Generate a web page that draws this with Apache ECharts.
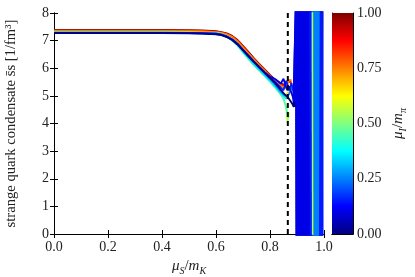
<!DOCTYPE html>
<html><head><meta charset="utf-8">
<script src="https://cdn.jsdelivr.net/npm/echarts@6/dist/echarts.min.js"></script>
<style>html,body{margin:0;padding:0;background:#fff}#c{width:415px;height:277px}</style>
</head><body><div id="c"></div>
<script>
// x positions (mu_S / m_K) of the smooth part
const muS = [0, 0.1, 0.2, 0.3, 0.4, 0.5, 0.55, 0.6, 0.62, 0.64, 0.66, 0.68, 0.70, 0.72, 0.74, 0.76, 0.78, 0.80, 0.82, 0.84, 0.85, 0.86, 0.865, 0.87, 0.88, 0.89];
// x positions of the unstable (noisy) region
const muSChaos = [0.899, 0.901, 0.903, 0.906, 0.909, 0.912, 0.915, 0.918, 0.921, 0.924, 0.927, 0.930, 0.933, 0.936, 0.939, 0.942, 0.945, 0.948, 0.951, 0.954, 0.957, 0.960, 0.963, 0.966, 0.969, 0.972, 0.975, 0.978, 0.981, 0.984, 0.987, 0.990, 0.992];
// colour parameter mu_I / m_pi of each curve
const muI = [0.00, 0.10, 0.15, 0.25, 0.35, 0.45, 0.55, 0.65, 0.75, 0.85, 1.00];

const ss00 = [7.27,7.27,7.27,7.27,7.27,7.26,7.25, 7.23,7.20,7.13,7.02,6.86,6.65,6.44,6.23,6.03,5.83,5.64,5.45,5.22,5.10,5.00,4.95,4.90,4.75,4.60];
const ss01 = [7.28,7.28,7.28,7.28,7.28,7.27,7.26, 7.24,7.21,7.14,7.03,6.87,6.66,6.45,6.24,6.04,5.85,5.70,5.60,5.45,5.62,5.30,5.20,5.35,5.10,4.80];
const ss02 = [7.28,7.28,7.28,7.28,7.28,7.27,7.26, 7.25,7.22,7.15,7.04,6.88,6.67,6.46,6.25,6.05,5.86,5.68,5.50,5.30,5.20,5.55,5.40,5.20,5.45,5.00];
const ss03 = [7.29,7.29,7.29,7.29,7.29,7.28,7.27, 7.26,7.23,7.16,7.05,6.88,6.66,6.44,6.22,6.02,5.82,5.62,5.40,5.15,5.05,5.00,4.95,5.05,5.30,5.20];
const ss04 = [7.29,7.29,7.29,7.29,7.29,7.28,7.27, 7.26,7.23,7.15,7.02,6.84,6.60,6.37,6.15,5.95,5.75,5.55,5.33,5.10,5.00,4.90,4.85,4.95,null,null];
const ss05 = [7.30,7.30,7.30,7.30,7.30,7.29,7.28, 7.26,7.23,7.14,7.00,6.82,6.58,6.35,6.12,5.92,5.72,5.52,5.30,5.05,4.90,4.60,4.30,4.20,null,null];
const ss06 = [7.30,7.30,7.30,7.30,7.30,7.29,7.28, 7.27,7.24,7.15,7.01,6.82,6.58,6.34,6.12,5.92,5.72,5.52,5.30,5.05,4.92,4.55,4.05,4.40,null,null];
const ss07 = [7.31,7.31,7.31,7.31,7.31,7.30,7.29, 7.28,7.25,7.17,7.04,6.86,6.63,6.40,6.18,5.97,5.77,5.58,5.38,5.18,5.10,5.00,5.05,5.20,null,null];
const ss08 = [7.35,7.35,7.35,7.35,7.35,7.34,7.33, 7.31,7.28,7.23,7.13,6.97,6.76,6.54,6.32,6.11,5.91,5.71,5.52,5.36,5.30,5.30,5.45,5.55,5.58,null];
const ss09 = [7.37,7.37,7.37,7.37,7.37,7.36,7.35, 7.32,7.29,7.24,7.15,6.99,6.78,6.56,6.34,6.13,5.93,5.73,5.55,5.40,5.38,5.35,5.55,5.62,5.48,null];
const ss10 = [7.39,7.39,7.39,7.39,7.39,7.38,7.37, 7.34,7.31,7.26,7.17,7.02,6.81,6.59,6.37,6.16,5.96,5.76,5.58,5.45,5.42,5.40,5.50,5.58,5.42,null];

// noisy region values (curves mu_I = 0.00, 0.10, 0.15, 0.25)
const chaos00 = [8.6,-0.4,8.6,-0.4,8.8,-0.3,8.5,-0.5,8.7,-0.2,8.9,-0.4,8.6,-0.3,8.8,-0.5,8.5,-0.2,8.7,-0.4,8.9,-0.3,8.6,-0.5,8.8,-0.2,8.5,-0.4,8.7,-0.3,8.9,-0.5,8.6];
const chaos01 = [8.7,-0.3,8.7,-0.3,8.5,-0.5,8.9,-0.2,8.6,-0.4,8.8,-0.3,8.5,null,null,-0.2,8.9,-0.4,8.6,-0.3,null,null,null,null,null,null,null,null,null,null,null,null,null];
const chaos02 = [null,null,null,null,null,null,null,null,null,null,null,null,null,null,null,null,null,null,8.6,-0.4,null,null,null,null,null,null,null,null,null,8.5,-0.4,8.7,-0.2];
const chaos03 = [null,null,null,null,null,null,null,null,null,null,null,null,null,null,null,null,null,null,null,null,null,8.7,-0.3,8.5,-0.5,8.9,-0.2,8.6,null,null,null,null,null];
// single vertical streak of the mu_I = 0.55 curve
const spikeMuS = [0.957, 0.958];
const spikeSs = [8.6, -0.4];

const criticalMuS = 0.866;
const xTicks = [0, 1, 0.2];
const yTicks = [0, 8, 1];
const cbarRange = [0, 1, 0.25];

const smoothSets = [ss00, ss01, ss02, ss03, ss04, ss05, ss06, ss07, ss08, ss09, ss10];
const chaosSets = [chaos00, chaos01, chaos02, chaos03];

function jet(v) {
  const c = t => Math.max(0, Math.min(1, t));
  const r = c(Math.min(4 * v - 1.5, -4 * v + 4.5));
  const g = c(Math.min(4 * v - 0.5, -4 * v + 3.5));
  const b = c(Math.min(4 * v + 0.5, -4 * v + 2.5));
  return 'rgb(' + Math.round(r * 255) + ',' + Math.round(g * 255) + ',' + Math.round(b * 255) + ')';
}

const FONT = 'Liberation Serif';
const series = [];
// smooth curves: high mu_I drawn first so the blue curves lie on top
for (let k = smoothSets.length - 1; k >= 0; k--) {
  const arr = smoothSets[k];
  series.push({
    type: 'line', xAxisIndex: 0, yAxisIndex: 0, data: muS.map((x, i) => [x, arr[i]]),
    showSymbol: false, symbol: 'none', clip: true, animation: false,
    lineStyle: { color: jet(muI[k]), width: 1.8 }
  });
}
// noisy region of the low-mu_I curves
chaosSets.forEach((arr, k) => {
  const data = [];
  const last = smoothSets[k][muS.length - 1];
  if (arr[0] != null) data.push([muS[muS.length - 1], last]);
  muSChaos.forEach((x, i) => data.push([x, arr[i]]));
  series.push({
    type: 'line', xAxisIndex: 0, yAxisIndex: 0, data: data,
    showSymbol: false, symbol: 'none', clip: true, animation: false,
    lineStyle: { color: jet(muI[k]), width: 3.4, join: 'bevel' }
  });
});
series.push({
  type: 'line', xAxisIndex: 0, yAxisIndex: 0, symbol: 'none', clip: true, animation: false,
  data: spikeMuS.map((x, i) => [x, spikeSs[i]]),
  lineStyle: { color: jet(muI[6]), width: 1.5 }
});
series.push({
  type: 'line', xAxisIndex: 0, yAxisIndex: 0, symbol: 'none', animation: false, z: 5,
  data: [[criticalMuS, yTicks[0]], [criticalMuS, yTicks[1]]],
  lineStyle: { color: '#000', width: 2, type: [5, 4] }
});
const stops = [];
for (let i = 0; i <= 40; i++) stops.push({ offset: i / 40, color: jet(i / 40) });
series.push({
  type: 'bar', xAxisIndex: 2, yAxisIndex: 3, data: [cbarRange[1]], barWidth: '100%', animation: false,
  itemStyle: { color: new echarts.graphic.LinearGradient(0, 1, 0, 0, stops) }
});

const axLine = { show: true, lineStyle: { color: '#000', width: 1 } };
const tickIn = { show: true, inside: true, length: 4, lineStyle: { color: '#000' } };
const lab = { fontFamily: FONT, fontSize: 14, color: '#222' };
const richName = {
  i: { fontFamily: FONT, fontSize: 15, fontStyle: 'italic', lineHeight: 20, verticalAlign: 'middle', color: '#222' },
  n: { fontFamily: FONT, fontSize: 15, lineHeight: 20, verticalAlign: 'middle', color: '#222' },
  s: { fontFamily: FONT, fontSize: 10, fontStyle: 'italic', lineHeight: 12, verticalAlign: 'bottom', color: '#222' }
};

const option = {
  animation: false,
  backgroundColor: '#fff',
  grid: [
    { left: 54, right: 91, top: 13, bottom: 43, outerBoundsMode: 'none', containLabel: false },
    { left: 332, right: 62, top: 13, bottom: 43, outerBoundsMode: 'none', containLabel: false }
  ],
  xAxis: [
    { gridIndex: 0, type: 'value', min: xTicks[0], max: xTicks[1], interval: xTicks[2], position: 'bottom',
      axisLine: axLine, axisTick: tickIn, splitLine: { show: false },
      axisLabel: Object.assign({ margin: 6, formatter: v => v.toFixed(1) }, lab),
      name: '{i|μ}{s|S}{n|/}{i|m}{s|K}', nameLocation: 'middle', nameGap: 22,
      nameTextStyle: { rich: richName } },
    { gridIndex: 0, type: 'value', min: xTicks[0], max: xTicks[1], interval: xTicks[2], position: 'top',
      axisLine: axLine, axisTick: tickIn, splitLine: { show: false }, axisLabel: { show: false } },
    { gridIndex: 1, type: 'category', data: [''], position: 'bottom', boundaryGap: true,
      axisLine: axLine, axisTick: { show: false }, axisLabel: { show: false } },
    { gridIndex: 1, type: 'category', data: [''], position: 'top', boundaryGap: true,
      axisLine: axLine, axisTick: { show: false }, axisLabel: { show: false } }
  ],
  yAxis: [
    { gridIndex: 0, type: 'value', min: yTicks[0], max: yTicks[1], interval: yTicks[2], position: 'left',
      axisLine: axLine, axisTick: tickIn, splitLine: { show: false },
      axisLabel: Object.assign({ margin: 5 }, lab),
      name: 'strange quark condensate s\u0304s [1/fm³]', nameLocation: 'middle', nameGap: 35, nameRotate: 90,
      nameTextStyle: { fontFamily: FONT, fontSize: 14.6, color: '#222' } },
    { gridIndex: 0, type: 'value', min: yTicks[0], max: yTicks[1], interval: yTicks[2], position: 'right',
      axisLine: axLine, axisTick: tickIn, splitLine: { show: false }, axisLabel: { show: false } },
    { gridIndex: 1, type: 'value', min: cbarRange[0], max: cbarRange[1], interval: cbarRange[2], position: 'left',
      axisLine: axLine, axisTick: { show: false }, splitLine: { show: false }, axisLabel: { show: false } },
    { gridIndex: 1, type: 'value', min: cbarRange[0], max: cbarRange[1], interval: cbarRange[2], position: 'right',
      axisLine: axLine, axisTick: tickIn, splitLine: { show: false },
      axisLabel: Object.assign({ margin: 4, formatter: v => v.toFixed(2) }, lab),
      name: '{i|μ}{s|I}{n|/}{i|m}{s|π}', nameLocation: 'middle', nameGap: 35, nameRotate: 90,
      nameTextStyle: { rich: richName } }
  ],
  series: series
};
const chart = echarts.init(document.getElementById('c'), null, { renderer: 'canvas' });
chart.setOption(option);
</script>
</body></html>
